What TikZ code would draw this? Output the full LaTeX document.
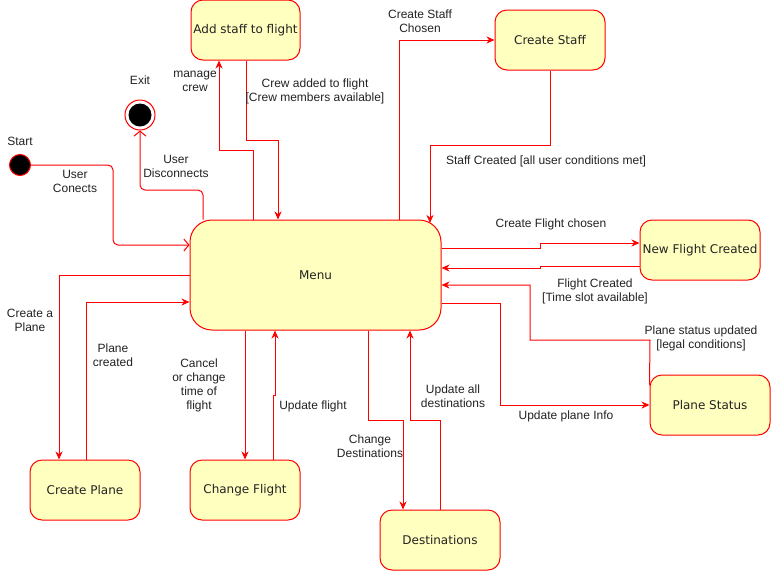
\documentclass[tikz,border=0pt]{standalone}
\usepackage{fontspec}
\setmainfont{Liberation Sans}
\newfontfamily\nodefont{DejaVu Sans}
\usetikzlibrary{arrows.meta,backgrounds}
\definecolor{statefill}{HTML}{FFFFC0}
\definecolor{txtgray}{HTML}{222222}
\begin{document}
\begin{tikzpicture}[x=1pt,y=-1pt,
 state/.style={draw=red, fill=statefill, line width=1pt, rounded corners=12pt,
   minimum width=110pt, minimum height=60pt, inner sep=0pt,
   font=\nodefont\fontsize{12}{14}\selectfont, text=txtgray},
 edge/.style={draw=red, line width=1pt, -{Stealth[length=8pt,width=7pt,inset=2.5pt]}},
 openedge/.style={draw=red, line width=1pt, rounded corners=5pt, -{Straight Barb[length=5pt,width=12pt]}},
 lbl/.style={font=\fontsize{12}{14}\selectfont, align=center, text=txtgray, inner sep=0pt}
]
\useasboundingbox (0,0) rectangle (771,571);

% states
\node[state, minimum width=251pt, minimum height=110pt, rounded corners=22pt] (menu) at (315.5,275) {Menu};
\node[state, minimum width=109pt] (add) at (245.5,30) {Add staff to flight};
\node[state] (createstaff) at (550,40) {Create Staff};
\node[state, minimum width=120pt] (newflight) at (700,250) {New Flight Created};
\node[state, minimum width=120pt] (planestatus) at (710,405) {Plane Status};
\node[state] (createplane) at (85,490) {Create Plane};
\node[state] (changeflight) at (245,490) {Change Flight};
\node[state, minimum width=120pt] (destinations) at (440,540) {Destinations};

% start / exit
\node[circle, draw=red, fill=black, line width=1pt, minimum size=21pt, inner sep=0pt] (start) at (20,165) {};
\node[circle, draw=red, fill=white, line width=1pt, minimum size=30pt, inner sep=0pt] (exit) at (140,115) {};
\node[circle, fill=black, minimum size=23pt, inner sep=0pt] (exitdot) at (exit.center) {};

% connectors
\begin{scope}[on background layer]
\draw[openedge] (start.east) -- (113,165) -- (113,245) -- (menu.west |- 0,245);
\draw[openedge] (menu.north -| 203,0) -- (203,190) -- (140,190) -- (exit.south);
\draw[edge] (menu.north -| 253,0) -- (253,150) -- (219,150) -- (add.south -| 219,0);
\draw[edge] (add.south -| 246,0) -- (246,140) -- (278,140) -- (menu.north -| 278,0);
\draw[edge] (menu.north -| 399,0) -- (399,40) -- (createstaff.west);
\draw[edge] (createstaff.south) -- (550,145) -- (430,145) -- (430,223);
\draw[edge] (menu.east |- 0,248) -- (540,248) -- (540,243) -- (newflight.west |- 0,243);
\draw[edge] (newflight.west |- 0,266) -- (540,266) -- (540,268) -- (menu.east |- 0,268);
\draw[edge] (planestatus.west |- 0,385) -- (650,340) -- (530,340) -- (530,285) -- (menu.east |- 0,285);
\draw[edge] (menu.east |- 0,303) -- (500,303) -- (500,405) -- (planestatus.west);
\draw[edge] (menu.west |- 0,275) -- (59,275) -- (createplane.north -| 59,0);
\draw[edge] (createplane.north -| 86,0) -- (86,302) -- (menu.west |- 0,302);
\draw[edge] (menu.south -| 245,0) -- (changeflight.north -| 245,0);
\draw[edge] (changeflight.north -| 273,0) -- (273,395) -- (275,395) -- (menu.south -| 275,0);
\draw[edge] (menu.south -| 368,0) -- (368,420) -- (403,420) -- (destinations.north -| 403,0);
\draw[edge] (destinations.north -| 440,0) -- (440,420) -- (410,420) -- (menu.south -| 410,0);
\end{scope}

% labels
\node[lbl] (lstart) at (20,141) {Start};
\node[lbl] (lexit) at (140,80) {Exit};
\node[lbl] (l1) at (75,181) {User\\Conects};
\node[lbl] (l2) at (176,166) {User\\Disconnects};
\node[lbl] (l3) at (195,81) {manage\\crew};
\node[lbl] (l4) at (315,91) {Crew added to flight\\{[Crew members available]}};
\node[lbl] (l5) at (420,21) {Create Staff\\Chosen};
\node[lbl] (l6) at (546,161) {Staff Created [all user conditions met]};
\node[lbl] (l7) at (551,224) {Create Flight chosen};
\node[lbl] (l8) at (595,291) {Flight Created\\{[Time slot available]}};
\node[lbl] (l9) at (701,338) {Plane status updated\\{[legal conditions]}};
\node[lbl] (l10) at (566,416) {Update plane Info};
\node[lbl] (l11) at (30,320) {Create a\\Plane};
\node[lbl] (l12) at (113,355) {Plane\\created};
\node[lbl] (l13) at (199,385) {Cancel\\or change\\time of\\flight};
\node[lbl] (l14) at (313,406) {Update flight};
\node[lbl] (l15) at (370,446) {Change\\Destinations};
\node[lbl] (l16) at (453,396) {Update all\\destinations};
\end{tikzpicture}
\end{document}
